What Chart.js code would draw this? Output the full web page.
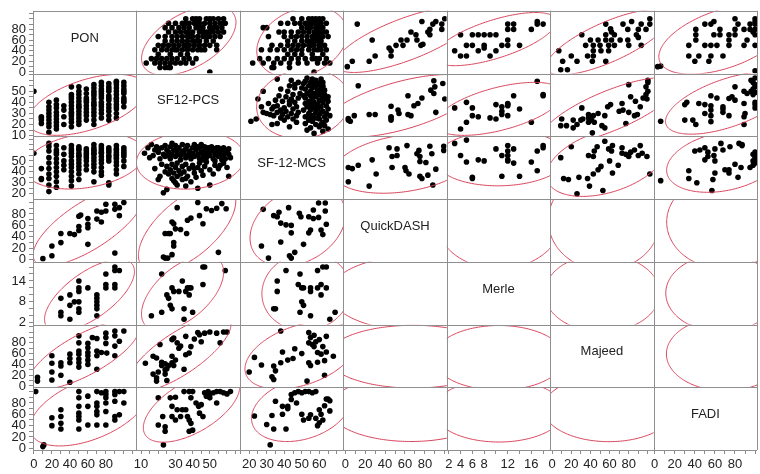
<!DOCTYPE html>
<html>
<head>
<meta charset="utf-8">
<script src="https://cdn.jsdelivr.net/npm/chart.js@4.4.1/dist/chart.umd.min.js"></script>
<style>
  html, body { margin: 0; padding: 0; background: #fff; }
</style>
</head>
<body>
<canvas id="spm" width="760" height="474"></canvas>
<script>
// variables of the scatterplot matrix (row / column order)
const varNames = ['PON', 'SF12-PCS', 'SF-12-MCS', 'QuickDASH', 'Merle', 'Majeed', 'FADI'];

// axis ranges
const xMin = [-1, 7.3, 14.7, -2, 1.66, -2, -1];
const xMax = [114, 67.5, 73.7, 102, 19.2, 106, 102];
const yMin = [-3, 9.4, 15.2, -3.4, 1.5, -2.4, -3];
const yMax = [115, 66, 72.5, 106, 19.5, 114, 107.7];

// labelled ticks and minor tick step
const xTickLabels = [[0, 20, 40, 60, 80], [10, 30, 40, 50], [20, 30, 40, 50, 60], [0, 20, 40, 60, 80], [2, 4, 6, 8, 12, 16], [0, 20, 40, 60, 80], [0, 20, 40, 60, 80]];
const yTickLabels = [[0, 20, 40, 60, 80], [10, 20, 30, 40, 50], [20, 30, 40, 50], [0, 20, 40, 60, 80], [2, 8, 14], [0, 20, 40, 60, 80], [0, 20, 40, 60, 80]];
const tickStep = [10, 5, 5, 10, 2, 10, 10];

// pairs of values [first variable, second variable]
const ponPcs = [[0,50],[8.3,24],[8.3,26],[8.3,27],[8.3,21],
  [16.7,13],[16.7,18],[16.7,21],[16.7,24],[16.7,27],[16.7,30],[16.7,33],[16.7,36],[16.7,40],
  [25,16],[25,19],[25,22],[25,25],[25,28],[25,31],[25,35],[25,38],[25,42],
  [33.3,20],[33.3,27],[33.3,33],[33.3,37],
  [41.7,18],[41.7,22],[41.7,25],[41.7,28],[41.7,30],[41.7,31],[41.7,34],[41.7,37],[41.7,40],[41.7,43],[41.7,45],[41.7,47],[41.7,54],
  [50,20],[50,23],[50,26],[50,29],[50,32],[50,35],[50,36],[50,38],[50,41],[50,44],[50,47],[50,50],[50,54],
  [58.3,24],[58.3,28],[58.3,31],[58.3,34],[58.3,37],[58.3,40],[58.3,42],[58.3,44],[58.3,48],[58.3,52],
  [66.7,20],[66.7,24],[66.7,28],[66.7,31],[66.7,34],[66.7,37],[66.7,38],[66.7,40],[66.7,43],[66.7,46],[66.7,48],[66.7,50],[66.7,53],[66.7,56],
  [75,26],[75,30],[75,33],[75,36],[75,38],[75,40],[75,44],[75,46],[75,48],[75,50],[75,52],[75,55],[75,58],
  [83.3,24],[83.3,28],[83.3,32],[83.3,35],[83.3,38],[83.3,42],[83.3,44],[83.3,46],[83.3,50],[83.3,52],[83.3,54],[83.3,57],
  [91.7,26],[91.7,30],[91.7,34],[91.7,36],[91.7,38],[91.7,41],[91.7,43],[91.7,44],[91.7,47],[91.7,50],[91.7,53],[91.7,56],[91.7,58],[91.7,59],
  [100,36],[100,40],[100,42],[100,44],[100,48],[100,50],[100,52],[100,55],[100,58]];

const ponMcs = [[0,57],[8.3,34],[8.3,33],[8.3,43],
  [16.7,66],[16.7,63],[16.7,59],[16.7,53],[16.7,48],[16.7,43],[16.7,38],[16.7,34],[16.7,28],[16.7,22],
  [25,64],[25,60],[25,58],[25,56],[25,52],[25,48],[25,44],[25,40],[25,36],[25,31],[25,26],
  [33.3,62],[33.3,56],[33.3,50],[33.3,46],[33.3,42],
  [41.7,64],[41.7,61],[41.7,59],[41.7,57],[41.7,54],[41.7,50],[41.7,47],[41.7,44],[41.7,40],[41.7,36],[41.7,32],[41.7,27],
  [50,63],[50,61],[50,60],[50,57],[50,55],[50,54],[50,51],[50,48],[50,45],[50,42],[50,38],[50,33],
  [58.3,61],[58.3,59],[58.3,57],[58.3,55],[58.3,53],[58.3,50],[58.3,46],[58.3,42],
  [66.7,65],[66.7,62],[66.7,60],[66.7,59],[66.7,57],[66.7,56],[66.7,53],[66.7,50],[66.7,47],[66.7,44],[66.7,40],[66.7,31],
  [75,64],[75,62],[75,60],[75,58],[75,57],[75,54],[75,51],[75,48],[75,44],[75,40],[75,37],
  [83.3,62],[83.3,60],[83.3,58],[83.3,55],[83.3,53],[83.3,50],[83.3,30],[83.3,28],
  [91.7,64],[91.7,61],[91.7,60],[91.7,58],[91.7,56],[91.7,55],[91.7,53],[91.7,52],[91.7,49],[91.7,46],[91.7,42],[91.7,38],
  [100,62],[100,60],[100,58],[100,56],[100,54],[100,50],[100,45]];

const pcsMcs = [[12,57],[14,62],[15,53],[16,65],[17,55],[18,60],[19,63],[20,58],[21,52],[22,62],[23,56],[24,54],[24,64],
  [25,60],[26,58],[27,63],[27,52],[28,56],[28,66],[29,60],[30,54],[30,64],[31,58],[32,62],[33,55],[33,51],[34,59],[34,65],
  [35,57],[36,53],[36,61],[37,55],[37,64],[38,59],[39,52],[40,57],[40,62],[41,54],[41,65],[42,60],[43,56],[43,63],[44,52],
  [44,62],[45,58],[45,65],[46,55],[47,60],[47,63],[48,53],[48,57],[49,62],[50,55],[50,59],[51,59],[51,63],[52,52],[52,61],
  [53,56],[54,58],[54,62],[55,54],[55,62],[56,57],[56,60],[57,60],[58,55],[58,62],[59,52],[59,58],[60,58],[61,56],[61,61],
  [62,53],[58,48],[56,46],[60,44],[57,51],[53,50],[46,51],[39,56],[31,61],[26,55],[20,61],
  [18,43],[21,36],[22,47],[24,40],[25,45],[26,38],[27,42],[28,47],[28,34],[29,39],[30,44],[31,36],[31,48],[32,41],
  [33,38],[34,45],[34,33],[35,40],[36,47],[37,36],[38,43],[39,31],[40,46],[41,39],[42,35],[43,44],[44,48],[45,41],
  [46,37],[47,45],[48,49],[50,42],[52,38],[53,46],[55,43],[36,34],[41,43],[29,32],
  [23,21],[25,24],[31,28],[36,27],[50,28],[43,25],[61,36],[20,33],[30,30]];

const ponQd = [[10,2],[20,7],[20,24],[30,30],[30,46],[40,46],[45,44],[50,51],[50,58],[50,76],[52,78],[60,56],[60,62],
  [60,72],[60,27],[70,71],[70,85],[75,66],[75,83],[80,97],[80,85],[90,97],[90,88],[95,91],[95,77],[100,100],[90,12]];

const ponMerle = [[30,9],[30,5],[30,4],[40,10],[40,7],[40,3],[45,8],[50,14],[50,12],[50,11],[50,8],[50,6],[50,5],
  [60,12],[70,10],[70,9],[70,8],[70,7],[70,6],[70,4],[80,16],[80,13],[80,12],[90,18],[90,17],[90,13],[90,12],[95,17]];

const ponMajeed = [[4,16],[4,9],[20,56],[20,42],[20,26],[20,11],[30,43],[30,37],[30,20],[40,7],[40,43],[40,51],[40,59],
  [50,93],[50,80],[50,65],[50,59],[50,50],[50,43],[50,35],[60,71],[60,79],[60,62],[60,56],[60,48],[60,40],[65,90],
  [70,88],[70,65],[70,56],[70,31],[75,62],[80,98],[80,90],[80,79],[81,61],[90,102],[90,93],[90,74],[90,56],[95,83],[100,102]];

const ponFadi = [[2,100],[10,3],[11,6],[20,54],[20,40],[30,68],[30,56],[30,44],[30,34],[50,100],[50,89],[50,74],[50,62],
  [50,56],[50,50],[50,34],[60,92],[60,74],[60,41],[70,100],[70,80],[70,74],[70,65],[70,59],[70,41],[75,98],[80,100],
  [80,95],[80,89],[80,80],[80,65],[80,41],[90,100],[90,95],[90,83],[90,56],[90,50],[95,100],[95,59],[100,100],[100,80]];

const pcsQd = [[31,91],[43,100],[48,89],[51,86],[54,90],[57,98],[59.5,89],[44,77],[39,73],[37,69],[46,63],[28,66],[29,63],
  [30,54],[33,53],[36.5,46],[24,46],[26,46],[27,46],[29,30],[29,24],[23,5],[24,3],[25.5,3],[28,9],[55,13]];

const pcsMerle = [[22,16],[16,4],[22,5],[25,10],[26,9],[27,7],[28,6],[28,12],[29,11],[32,11],[34,14],[35,6],[36,11],
  [37,12],[38,12],[39,12],[38,10],[40,5],[35,3],[46,18],[47,18],[46,13],[59,17]];

const pcsMajeed = [[12.5,42],[17,55],[19,52],[20,26],[17,22],[19,15],[19,9],[21,77],[22,44],[22,38],[24,41],[25,32],
  [26,38],[28,43],[29,38],[30,48],[28,55],[24,30],[24,22],[25,10],[28,86],[29,89],[31,80],[33,74],[32,70],[36,92],
  [36,58],[38,61],[35,31],[41,87],[44,95],[43,99],[47,98],[50,100],[54,98],[58,100],[60,100],[56,80],[45,82],[39,73]];

const pcsFadi = [[20,89],[22.6,56],[20,41],[24,38],[24,30],[23,6],[27,89],[30,90],[28,74],[31,68],[34,68],[28,56],
  [30,50],[33,56],[35,100],[38,100],[40,100],[39,89],[42,80],[43.5,74],[36,68],[37,56],[38,50],[39,44],[40,32],
  [38,30],[47,98],[49,100],[50,96],[52,98],[54,100],[56,100],[58,98],[48,92],[50,89],[54,80],[45,77],[62,100],
  [60,96],[44,62],[46,56]];

const mcsQd = [[28,88],[34,77],[37,83],[36,75],[38,64],[41,61],[44,60],[44,47],[42.5,91],[48.6,81],[49.5,75],[54,75],
  [56.6,72],[56.6,87],[59.6,74],[59.6,99],[63.4,99],[63.4,85],[64,62],[55,52],[54,47],[61,52],[62,44],[38,31],
  [51,27],[27,24],[31,3],[43,7],[44,3],[46,13]];

const mcsMerle = [[41,17],[49,16],[36,14],[36,11],[34,6],[35,6],[48,13],[50,12],[51,12],[55,12],[55,11],[59,17],
  [62,18],[64,18],[59,12],[61,13],[64,12],[61,10],[50,8],[51,7],[49,5],[55,4],[66,3],[69,5]];

const mcsMajeed = [[20,26],[23,53],[27,39],[34,37],[35,28],[33,17],[34,12],[38,102],[39,63],[38,43],[42,48],[46,69],
  [45,51],[50,60],[54,99],[55,90],[57,94],[54,80],[56,77],[58,82],[60,86],[64,92],[62,73],[59,62],[61,59],[64,63],
  [59,44],[63,47],[68,55],[57,73],[54,43],[55,38],[53,9],[63,20]];

const mcsFadi = [[23,57],[30,42],[34,34],[33,58],[35,83],[39,74],[42,74],[41,34],[39,60],[32,6],[44,95],[46,98],
  [48,100],[50,98],[52,100],[54,100],[56,98],[58,100],[47,80],[50,60],[51,50],[54,53],[55,59],[60,68],[58,53],
  [61,60],[62,50],[65,87],[66,84],[64,87],[63,75],[66,66],[60,45],[59,40],[44,86],[42,70]];

// pairs without joint data: only the density ellipse is shown
// [var a, var b, mean a, mean b, sd a, sd b, r]
const emptyPairEllipses = [
  [3, 4, 77, 10.5, 37.9, 4.49, 0],
  [3, 5, 68.4, 54.3, 35.3, 23.8, 0],
  [3, 6, 65.9, 70, 33.5, 23.7, 0],
  [4, 5, 10.5, 52.2, 4.53, 24.5, 0],
  [4, 6, 10.5, 66.4, 4.53, 22.6, 0],
  [5, 6, 59.3, 70.2, 27.9, 23.9, 0]
];

const pairs = [
  [0, 1, ponPcs], [0, 2, ponMcs], [1, 2, pcsMcs],
  [0, 3, ponQd], [0, 4, ponMerle], [0, 5, ponMajeed], [0, 6, ponFadi],
  [1, 3, pcsQd], [1, 4, pcsMerle], [1, 5, pcsMajeed], [1, 6, pcsFadi],
  [2, 3, mcsQd], [2, 4, mcsMerle], [2, 5, mcsMajeed], [2, 6, mcsFadi]
];

function pairStats(pts) {
  const n = pts.length;
  let ma = 0, mb = 0;
  pts.forEach(p => { ma += p[0]; mb += p[1]; });
  ma /= n; mb /= n;
  let saa = 0, sbb = 0, sab = 0;
  pts.forEach(p => {
    saa += (p[0] - ma) ** 2; sbb += (p[1] - mb) ** 2; sab += (p[0] - ma) * (p[1] - mb);
  });
  return [ma, mb, Math.sqrt(saa / (n - 1)), Math.sqrt(sbb / (n - 1)), sab / Math.sqrt(saa * sbb)];
}

const ellipses = pairs.map(([a, b, pts]) => [a, b, ...pairStats(pts)]).concat(emptyPairEllipses);

// datasets: each pair is shown in two cells, transposed
const datasets = [];
pairs.forEach(([a, b, pts]) => {
  const style = { pointRadius: 2.8, pointHoverRadius: 2.8, pointBackgroundColor: '#000', pointBorderWidth: 0, showLine: false };
  datasets.push({ data: pts.map(p => ({ x: p[0], y: p[1] })), xAxisID: 'x' + a, yAxisID: 'y' + b, ...style });
  datasets.push({ data: pts.map(p => ({ x: p[1], y: p[0] })), xAxisID: 'x' + b, yAxisID: 'y' + a, ...style });
});

const tickFont = { family: '"Liberation Sans", Arial, sans-serif', size: 13 };

function stepTicks(min, max, step) {
  const out = [];
  for (let v = Math.ceil(min / step) * step; v <= max; v += step) out.push({ value: v });
  return out;
}

const scales = {};
for (let j = 0; j < 7; j++) {
  scales['x' + j] = {
    type: 'linear', position: 'bottom', stack: 'cols', stackWeight: 1,
    min: xMin[j], max: xMax[j],
    afterBuildTicks: s => { s.ticks = stepTicks(xMin[j], xMax[j], tickStep[j]); },
    afterFit: s => { s.height = 24; },
    ticks: { autoSkip: false, maxRotation: 0, padding: 3, color: '#222', font: tickFont,
      callback: v => xTickLabels[j].includes(v) ? String(v) : '' },
    grid: { drawOnChartArea: false, drawTicks: true, tickLength: 4, color: '#8a8a8a' },
    border: { display: false }
  };
}
// left axes are stacked from the bottom up, so add the last row first
for (let i = 6; i >= 0; i--) {
  scales['y' + i] = {
    type: 'linear', position: 'left', stack: 'rows', stackWeight: 1,
    min: yMin[i], max: yMax[i],
    afterBuildTicks: s => { s.ticks = stepTicks(yMin[i], yMax[i], tickStep[i]); },
    afterFit: s => { s.width = 33; },
    ticks: { autoSkip: false, padding: 3, color: '#222', font: tickFont,
      callback: v => yTickLabels[i].includes(v) ? String(v) : '' },
    grid: { drawOnChartArea: false, drawTicks: true, tickLength: 4, color: '#8a8a8a' },
    border: { display: false }
  };
}

function drawEllipse(ctx, xs, ys, mx, my, sx, sy, r) {
  const c = Math.sqrt(5.991);  // 95% bivariate normal
  const k = Math.sqrt(1 - r * r);
  ctx.save();
  ctx.beginPath();
  ctx.rect(xs.left, ys.top, xs.right - xs.left, ys.bottom - ys.top);
  ctx.clip();
  ctx.beginPath();
  for (let i = 0; i <= 240; i++) {
    const t = i / 240 * 2 * Math.PI;
    const px = xs.getPixelForValue(mx + c * sx * Math.cos(t));
    const py = ys.getPixelForValue(my + c * sy * (r * Math.cos(t) + k * Math.sin(t)));
    if (i === 0) ctx.moveTo(px, py); else ctx.lineTo(px, py);
  }
  ctx.strokeStyle = '#d8435b';
  ctx.lineWidth = 1;
  ctx.stroke();
  ctx.restore();
}

const matrixPlugin = {
  id: 'matrix',
  beforeDatasetDraw(chart, args) {
    const { xScale, yScale } = args.meta;
    const ctx = chart.ctx;
    ctx.save();
    ctx.beginPath();
    ctx.rect(xScale.left, yScale.top, xScale.right - xScale.left, yScale.bottom - yScale.top);
    ctx.clip();
  },
  afterDatasetDraw(chart) {
    chart.ctx.restore();
  },
  afterDatasetsDraw(chart) {
    const ctx = chart.ctx;
    const area = chart.chartArea;
    const sc = chart.scales;

    ellipses.forEach(([a, b, ma, mb, sa, sb, r]) => {
      drawEllipse(ctx, sc['x' + a], sc['y' + b], ma, mb, sa, sb, r);
      drawEllipse(ctx, sc['x' + b], sc['y' + a], mb, ma, sb, sa, r);
    });

    // cell borders
    ctx.save();
    ctx.strokeStyle = '#8f8f8f';
    ctx.lineWidth = 1;
    ctx.beginPath();
    for (let j = 0; j < 7; j++) {
      const xs = sc['x' + j];
      [xs.left, xs.right].forEach(x => {
        const px = Math.round(x) + 0.5;
        ctx.moveTo(px, area.top); ctx.lineTo(px, area.bottom);
      });
    }
    for (let i = 0; i < 7; i++) {
      const ys = sc['y' + i];
      [ys.top, ys.bottom].forEach(y => {
        const py = Math.round(y) + 0.5;
        ctx.moveTo(area.left, py); ctx.lineTo(area.right, py);
      });
    }
    ctx.stroke();

    // variable names on the diagonal
    ctx.fillStyle = '#222';
    ctx.font = '13px "Liberation Sans", Arial, sans-serif';
    ctx.textAlign = 'center';
    ctx.textBaseline = 'middle';
    varNames.forEach((name, i) => {
      const xs = sc['x' + i], ys = sc['y' + i];
      ctx.fillText(name, (xs.left + xs.right) / 2, (ys.top + ys.bottom) / 2 - 4);
    });
    ctx.restore();
  }
};

new Chart(document.getElementById('spm').getContext('2d'), {
  type: 'scatter',
  data: { datasets },
  options: {
    responsive: false,
    animation: false,
    devicePixelRatio: 1,
    layout: { padding: { top: 9, right: 1, left: 0, bottom: 0 } },
    plugins: { legend: { display: false }, tooltip: { enabled: false } },
    scales
  },
  plugins: [matrixPlugin]
});
</script>
</body>
</html>
